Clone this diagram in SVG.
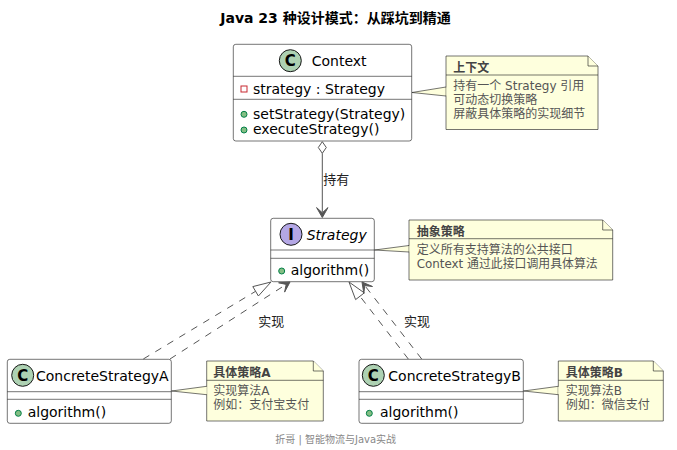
<svg xmlns="http://www.w3.org/2000/svg" width="677" height="450" viewBox="0 0 677 450">
<style>
text{font-family:"DejaVu Sans","Noto Sans CJK SC",sans-serif;}
.box{fill:#fff;stroke:#181818;stroke-width:0.6;}
.div{stroke:#181818;stroke-width:0.6;}
.cls{font-size:14px;fill:#000;}
.mem{font-size:14px;fill:#000;}
.circC{fill:#ADD1B2;stroke:#181818;stroke-width:1;}
.circI{fill:#B4A7E5;stroke:#181818;stroke-width:1;}
.glyph{font-size:15px;font-weight:bold;fill:#000;text-anchor:middle;}
.pub{fill:#84BE84;stroke:#038048;stroke-width:1;}
.priv{fill:none;stroke:#C82930;stroke-width:1;}
.note{fill:#FEFFDD;stroke:#181818;stroke-width:0.6;}
.nt{font-size:12px;fill:#555;}
.nth{font-size:12px;font-weight:bold;fill:#444;}
.edge{fill:none;stroke:#555;stroke-width:1;}
.dash{stroke-dasharray:7,7;}
.lbl{font-size:13px;fill:#222;}
</style>

<text x="335.5" y="23" text-anchor="middle" style="font-size:14px;font-weight:bold;fill:#000">Java 23 种设计模式：从踩坑到精通</text>

<g id="Context">
<rect class="box" x="233.3" y="44.3" width="178.4" height="96.7" rx="2.5"/>
<line class="div" x1="233.3" y1="76.3" x2="411.7" y2="76.3"/>
<line class="div" x1="233.3" y1="99.3" x2="411.7" y2="99.3"/>
<circle class="circC" cx="290.3" cy="60.7" r="11"/>
<text class="glyph" x="290.3" y="66">C</text>
<text class="cls" x="311.7" y="65.5">Context</text>
<rect class="priv" x="241" y="86" width="6" height="6"/>
<text class="mem" x="253" y="93.5">strategy : Strategy</text>
<circle class="pub" cx="244" cy="114.3" r="3"/>
<text class="mem" x="253" y="118.5">setStrategy(Strategy)</text>
<circle class="pub" cx="244" cy="130" r="3"/>
<text class="mem" x="253" y="134">executeStrategy()</text>
</g>

<g id="Strategy">
<rect class="box" x="270.7" y="218.3" width="103.6" height="63.4" rx="2.5"/>
<line class="div" x1="270.7" y1="250" x2="374.3" y2="250"/>
<line class="div" x1="270.7" y1="258.3" x2="374.3" y2="258.3"/>
<circle class="circI" cx="291" cy="234.3" r="11"/>
<text class="glyph" x="291" y="239.6">I</text>
<text class="cls" x="306.7" y="239.5" font-style="italic">Strategy</text>
<circle class="pub" cx="281.7" cy="271" r="3"/>
<text class="mem" x="290.7" y="274.5">algorithm()</text>
</g>

<g id="ConcreteStrategyA">
<rect class="box" x="7.3" y="359.3" width="164" height="64" rx="2.5"/>
<line class="div" x1="7.3" y1="391.7" x2="171.3" y2="391.7"/>
<line class="div" x1="7.3" y1="399.3" x2="171.3" y2="399.3"/>
<circle class="circC" cx="22.7" cy="375.3" r="11"/>
<text class="glyph" x="22.7" y="380.6">C</text>
<text class="cls" x="36" y="380.5">ConcreteStrategyA</text>
<circle class="pub" cx="18.3" cy="413.3" r="3"/>
<text class="mem" x="27.7" y="416.5">algorithm()</text>
</g>

<g id="ConcreteStrategyB">
<rect class="box" x="359" y="359.3" width="164.3" height="64" rx="2.5"/>
<line class="div" x1="359" y1="391.7" x2="523.3" y2="391.7"/>
<line class="div" x1="359" y1="399.3" x2="523.3" y2="399.3"/>
<circle class="circC" cx="373.3" cy="375.3" r="11"/>
<text class="glyph" x="373.3" y="380.6">C</text>
<text class="cls" x="388.3" y="380.5">ConcreteStrategyB</text>
<circle class="pub" cx="369.3" cy="413.3" r="3"/>
<text class="mem" x="380" y="416.5">algorithm()</text>
</g>

<g id="noteContext">
<path class="note" d="M412,92.5 L446,87 L446,96 Z"/>
<path class="note" d="M446,56 L588,56 L598,66 L598,129.5 L446,129.5 Z"/>
<path class="note" d="M588,56 L588,66 L598,66"/>
<line class="div" x1="446" y1="75" x2="598" y2="75"/>
<line x1="446" y1="87.5" x2="446" y2="95.5" stroke="#FEFFDD" stroke-width="1"/>
<text class="nth" x="453.3" y="72">上下文</text>
<text class="nt" x="453.3" y="90">持有一个 Strategy 引用</text>
<text class="nt" x="453.3" y="104">可动态切换策略</text>
<text class="nt" x="453.3" y="118">屏蔽具体策略的实现细节</text>
</g>

<g id="noteStrategy">
<path class="note" d="M374.5,250 L409,245.5 L409,252 Z"/>
<path class="note" d="M409,220 L602.7,220 L612.7,230 L612.7,280 L409,280 Z"/>
<path class="note" d="M602.7,220 L602.7,230 L612.7,230"/>
<line class="div" x1="409" y1="238.7" x2="612.7" y2="238.7"/>
<line x1="409" y1="246" x2="409" y2="251.5" stroke="#FEFFDD" stroke-width="1"/>
<text class="nth" x="416.7" y="236">抽象策略</text>
<text class="nt" x="416.7" y="253.5">定义所有支持算法的公共接口</text>
<text class="nt" x="416.7" y="268" textLength="181" lengthAdjust="spacingAndGlyphs">Context 通过此接口调用具体算法</text>
</g>

<g id="noteA">
<path class="note" d="M171.5,391 L206.7,386.3 L206.7,394.7 Z"/>
<path class="note" d="M206.7,361 L313.3,361 L323.3,371 L323.3,421 L206.7,421 Z"/>
<path class="note" d="M313.3,361 L313.3,371 L323.3,371"/>
<line class="div" x1="206.7" y1="380.3" x2="323.3" y2="380.3"/>
<line x1="206.7" y1="386.8" x2="206.7" y2="394.2" stroke="#FEFFDD" stroke-width="1"/>
<text class="nth" x="213.3" y="377">具体策略A</text>
<text class="nt" x="213.3" y="395">实现算法A</text>
<text class="nt" x="213.3" y="409">例如：支付宝支付</text>
</g>

<g id="noteB">
<path class="note" d="M523.5,391 L558.3,386.3 L558.3,394.7 Z"/>
<path class="note" d="M558.3,361 L653.3,361 L663.3,371 L663.3,421 L558.3,421 Z"/>
<path class="note" d="M653.3,361 L653.3,371 L663.3,371"/>
<line class="div" x1="558.3" y1="380.3" x2="663.3" y2="380.3"/>
<line x1="558.3" y1="386.8" x2="558.3" y2="394.2" stroke="#FEFFDD" stroke-width="1"/>
<text class="nth" x="565.7" y="377">具体策略B</text>
<text class="nt" x="565.7" y="395">实现算法B</text>
<text class="nt" x="565.7" y="409">例如：微信支付</text>
</g>

<g id="connectors">
<path class="edge" d="M322.3,153.3 L322.3,212"/>
<polygon points="322.3,141.7 326.3,147.5 322.3,153.3 318.3,147.5" fill="#fff" stroke="#555" stroke-width="1"/>
<polygon points="322.3,217.5 316.6,207.6 322.3,212.8 328,207.6" fill="#555" stroke="#555" stroke-width="1"/>
<text class="lbl" x="323.3" y="184">持有</text>
<path class="edge dash" d="M143.3,359 L255.6,291.3"/>
<polygon points="271,282 258.4,296 252.8,286.6" fill="none" stroke="#555" stroke-width="1"/>
<path class="edge dash" d="M170,359 L286.2,284.4"/>
<polygon points="290,282 284.6,292.1 286.2,284.4 278.6,282.8" fill="#555" stroke="#555" stroke-width="1"/>
<text class="lbl" x="258.3" y="325.5">实现</text>
<path class="edge dash" d="M408.3,359 L360,296.3"/>
<polygon points="349,282 364.3,292.9 355.6,299.6" fill="none" stroke="#555" stroke-width="1"/>
<path class="edge dash" d="M421.7,359 L364.8,285.6"/>
<polygon points="362,282 372.5,286.5 364.8,285.6 363.8,293.3" fill="#555" stroke="#555" stroke-width="1"/>
<text class="lbl" x="404" y="325.5">实现</text>
</g>

<text x="335.7" y="443" text-anchor="middle" style="font-size:10px;fill:#888">折哥 | 智能物流与Java实战</text>
</svg>
